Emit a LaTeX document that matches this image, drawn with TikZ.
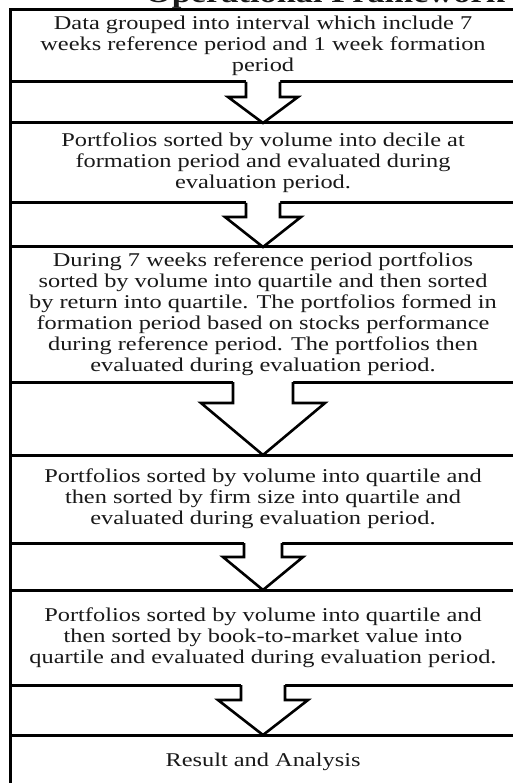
\documentclass[tikz,border=0pt]{standalone}
\usepackage{fontspec}
\setmainfont[FakeStretch=1.25]{Liberation Serif}
\usetikzlibrary{calc}
\tikzset{
  box/.style={draw=black, line width=3pt, outer sep=0pt, inner sep=0pt,
    minimum width=506pt, anchor=north, align=center, text=black!90,
    font=\fontsize{19.5}{21}\selectfont},
  arrowline/.style={draw=black, line width=2.6pt, line join=miter},
  frameline/.style={draw=black, line width=3pt}
}
\newcommand{\blockarrow}[5]{%
  \fill[white] ($(#1.south)+(-#3,-2)$) -- ($(#1.south)+(-#3,#5)$) -- ($(#1.south)+(-#4,#5)$) -- (#2.north) -- ($(#1.south)+(#4,#5)$) -- ($(#1.south)+(#3,#5)$) -- ($(#1.south)+(#3,-2)$) -- cycle;
  \draw[arrowline] ($(#1.south)+(-#3,0)$) -- ($(#1.south)+(-#3,#5)$) -- ($(#1.south)+(-#4,#5)$) -- (#2.north) -- ($(#1.south)+(#4,#5)$) -- ($(#1.south)+(#3,#5)$) -- ($(#1.south)+(#3,0)$);
}
\begin{document}
\begin{tikzpicture}[x=1pt,y=-1pt]
\useasboundingbox (0,0) rectangle (512,783);
\fill[white] (0,0) rectangle (512,783);
\node[anchor=base, font=\bfseries\fontsize{27.5}{30}\selectfont, text=black!90] (title) at (325,3) {Operational Framework};
\draw[frameline] (10,10) -- (10,800);
\node[box, minimum height=72pt] (b1) at (263,10) {Data grouped into interval which include 7\\weeks reference period and 1 week formation\\period};
\node[box, minimum height=80pt] (b2) at (263,123) {Portfolios sorted by volume into decile at\\formation period and evaluated during\\evaluation period.};
\node[box, minimum height=135pt] (b3) at (263,247) {During 7 weeks reference period portfolios\\sorted by volume into quartile and then sorted\\by return into quartile. The portfolios formed in\\formation period based on stocks performance\\during reference period. The portfolios then\\evaluated during evaluation period.};
\node[box, minimum height=88pt] (b4) at (263,455) {Portfolios sorted by volume into quartile and\\then sorted by firm size into quartile and\\evaluated during evaluation period.};
\node[box, minimum height=95pt] (b5) at (263,590) {Portfolios sorted by volume into quartile and\\then sorted by book-to-market value into\\quartile and evaluated during evaluation period.};
\node[box, minimum height=54pt] (b6) at (263,735) {Result and Analysis};
\blockarrow{b1}{b2}{17}{35}{15}
\blockarrow{b2}{b3}{17}{38}{14}
\blockarrow{b3}{b4}{30}{62}{21}
\blockarrow{b4}{b5}{19}{40}{14}
\blockarrow{b5}{b6}{22}{45}{15}
\end{tikzpicture}
\end{document}
